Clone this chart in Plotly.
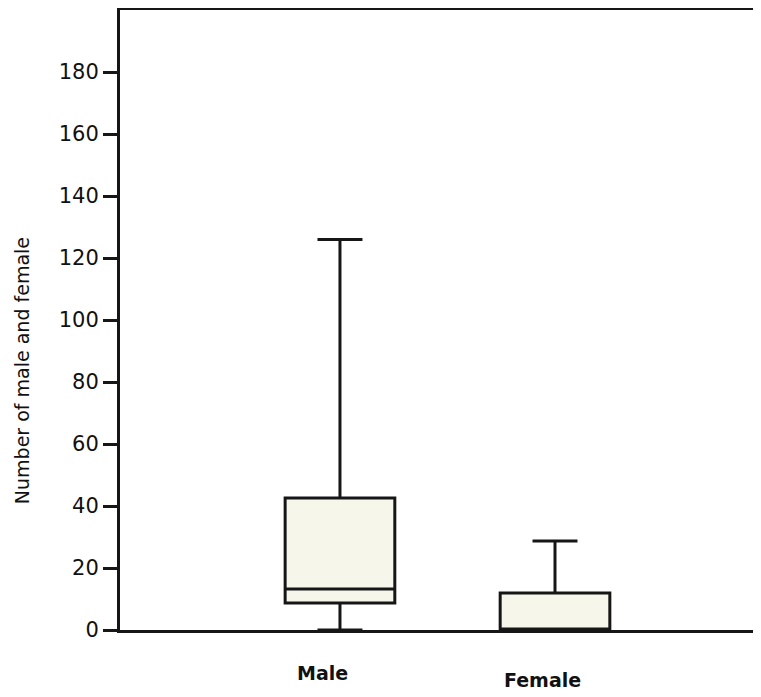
import plotly.graph_objects as go

categories = ["Male", "Female"]
lower_fence = [0, 0]
q1_vals = [8.7, 0]
median_vals = [13.2, 0]
q3_vals = [42.6, 11.9]
upper_fence = [126, 28.7]
y_ticks = [0, 20, 40, 60, 80, 100, 120, 140, 160, 180]

LINE = "#161616"
FONT = "DejaVu Sans"

fig = go.Figure()
fig.add_trace(go.Box(
    x=categories,
    q1=q1_vals, median=median_vals, q3=q3_vals,
    lowerfence=lower_fence, upperfence=upper_fence,
    fillcolor="#f7f6ea",
    line=dict(color=LINE, width=3),
    width=0.51,
    whiskerwidth=0.41,
    boxpoints=False,
    showlegend=False,
    hoverinfo="skip",
))

for cat, dy, dx in zip(categories, [0, 7], [-17, -13]):
    fig.add_annotation(x=cat, y=0, xref="x", yref="y", text=cat, showarrow=False,
                       xshift=dx, yshift=-43 - dy, yanchor="middle",
                       font=dict(family=FONT, size=19, color="#111111", weight="bold"))

fig.add_annotation(x=-0.153, y=0.419, xref="paper", yref="paper", textangle=-90,
                   xanchor="center", yanchor="middle",
                   text="Number of male and female", showarrow=False,
                   font=dict(family=FONT, size=19, color="#111111"))

fig.update_layout(
    width=753, height=689,
    margin=dict(l=112, r=0, t=2, b=67),
    paper_bgcolor="white", plot_bgcolor="white",
    font=dict(family=FONT, color="#111111"),
    xaxis=dict(type="category", range=[-1.023, 1.958], showticklabels=False,
               ticks="", showline=True, linecolor=LINE, linewidth=3, mirror=True,
               showgrid=False, zeroline=False),
    yaxis=dict(range=[0, 200], tickvals=y_ticks, ticks="outside", ticklen=14,
               tickwidth=3, tickcolor=LINE, showline=True, linecolor=LINE, linewidth=3,
               showgrid=False, zeroline=False, tickfont=dict(family=FONT, size=21),
               ticklabelstandoff=0),
)

fig.write_html("out.html")
